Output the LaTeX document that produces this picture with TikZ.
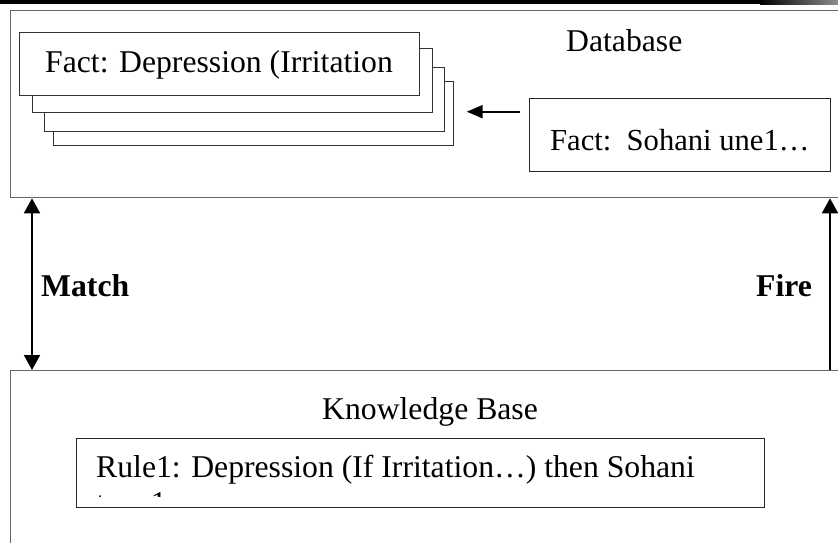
\documentclass[tikz,border=0pt]{standalone}
\usepackage{fontspec}
\setmainfont{Liberation Serif}
\usetikzlibrary{arrows.meta}

\tikzset{
  panel/.style={draw=black!60, line width=1.3pt, inner sep=0, anchor=north west},
  factcard/.style={draw=black!80, fill=white, line width=1pt, inner sep=0, anchor=north west,
                   minimum width=400pt, minimum height=64pt},
  rulecard/.style={draw=black!85, line width=1.1pt, inner sep=0, anchor=north west},
  label/.style={inner sep=0, anchor=base west, font=\fontsize{31.7pt}{36pt}\selectfont},
  boldlabel/.style={label, font=\fontsize{31.7pt}{36pt}\selectfont\bfseries},
  flow/.style={line width=2pt, -{Triangle[length=15pt,width=16pt]}},
  twoway/.style={line width=2pt, {Triangle[length=15pt,width=16pt]}-{Triangle[length=15pt,width=16pt]}},
  push/.style={line width=2pt, -{Triangle[length=16pt,width=13pt]}}
}

\begin{document}
\begin{tikzpicture}[x=1pt, y=-1pt]
  \useasboundingbox (0,0) rectangle (838,543);
  \clip (0,0) rectangle (838,543);

  % dark band along the top edge
  \fill[black] (0,0) rectangle (760,4.5);
  \shade[left color=black, right color=black!45] (760,0) rectangle (838,4.5);

  % the two main panels (they run on past the right and bottom edges)
  \node[panel, minimum width=840pt, minimum height=187pt] (db) at (10,10) {};
  \node[panel, minimum width=840pt, minimum height=190pt] (kb) at (10,370) {};

  \node[label] (dbtitle) at (566,52) {Database};
  \node[label] (kbtitle) at (322,419) {Knowledge Base};

  % stack of fact cards, back to front
  \node[factcard] (card4) at (53.3,80.7) {};
  \node[factcard] (card3) at (43.7,66.7) {};
  \node[factcard] (card2) at (32.3,47.7) {};
  \node[factcard, minimum height=63.3pt] (card1) at (19.3,31.7) {};
  \node[label] (cardtext) at (45,72.5) {Fact: Depression (Irritation};

  % newly derived fact
  \node[rulecard, minimum width=300.7pt, minimum height=73.3pt] (newfact) at (529.3,97.7) {};
  \node[label, font=\fontsize{30.6pt}{36pt}\selectfont] (newtext) at (550,150) {Fact:\ \ Sohani une1\ldots};

  \coordinate (pushS) at (520,111.7);
  \coordinate (pushE) at (466.7,111.7);
  \draw[push] (pushS) -- (pushE);

  % rule inside the knowledge base; its second line is cut off by the card
  \node[rulecard, minimum width=688pt, minimum height=68.4pt] (rule) at (76,438.3) {};
  \node[label] (ruletext) at (96,477) {Rule1: Depression (If Irritation\ldots) then Sohani};
  \begin{scope}
    \clip (77,440) rectangle (763,496);
    \node[label] (rulemore) at (96,513) {tune1};
  \end{scope}

  % match / fire links between the panels
  \coordinate (mx) at (32,0);
  \coordinate (fx) at (830,0);
  \draw[twoway] (db.south -| mx) -- (kb.north -| mx);
  \draw[flow] (kb.north -| fx) -- (db.south -| fx);

  \node[boldlabel] (match) at (41,296) {Match};
  \node[boldlabel] (fire) at (756,296) {Fire};
\end{tikzpicture}
\end{document}
